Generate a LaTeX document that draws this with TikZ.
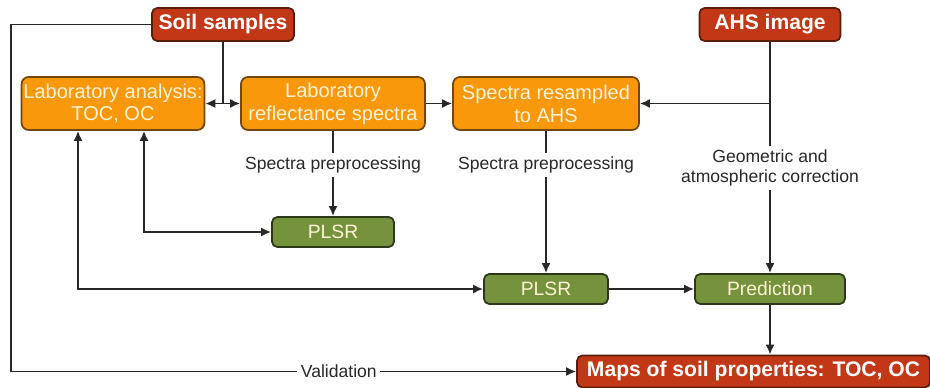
\documentclass[tikz,border=0pt]{standalone}
\usepackage{fontspec}
\setmainfont{Liberation Sans}
\usepackage{tikz}
\usetikzlibrary{arrows.meta,positioning}
\definecolor{soilred}{RGB}{194,56,22}
\definecolor{soilredline}{RGB}{90,28,12}
\definecolor{laborange}{RGB}{250,152,12}
\definecolor{laborangeline}{RGB}{115,70,12}
\definecolor{plsrgreen}{RGB}{117,146,60}
\definecolor{plsrgreenline}{RGB}{45,56,26}
\definecolor{boxtext}{RGB}{255,243,215}
\definecolor{linegray}{RGB}{40,40,40}
\tikzset{
  redbox/.style={ draw=soilredline, line width=1pt, fill=soilred, rounded corners=3pt,
    text=white, font=\fontsize{12}{14}\selectfont\bfseries, minimum height=0.66cm, inner sep=1pt }
}
\tikzset{
  orangebox/.style={ draw=laborangeline, line width=1pt, fill=laborange, rounded corners=4pt,
    text=boxtext, font=\fontsize{11.4}{13}\selectfont, align=center, minimum height=1.06cm, inner sep=1pt }
}
\tikzset{
  greenbox/.style={ draw=plsrgreenline, line width=1pt, fill=plsrgreen, rounded corners=3pt,
    text=boxtext, font=\fontsize{11}{13}\selectfont, minimum height=0.6cm, inner sep=1pt }
}
\tikzset{
  steplabel/.style={ fill=white, text=linegray, font=\fontsize{10}{11.9}\selectfont, align=center, inner sep=2pt }
}
\tikzset{
  conn/.style={ draw=linegray, line width=1pt, >={Latex[length=2mm,width=1.8mm]} }
}

\begin{document}
\begin{tikzpicture}[x=0.02cm, y=-0.02cm]
      \useasboundingbox (0, 0) rectangle (930, 388);
      \node[redbox, minimum width=2.84cm] (soil) at (223, 24.5) {Soil samples};
      \node[redbox, minimum width=2.82cm] (ahs) at (770, 24.5) {AHS image};

      \node[orangebox, minimum width=3.64cm] (lab) at (113, 103.5) {Laboratory analysis:\\TOC, OC};
      \node[orangebox, minimum width=3.68cm] (refl) at (333, 103.5) {Laboratory\\reflectance spectra};
      \node[orangebox, minimum width=3.72cm] (resamp) at (546, 103.5) {Spectra resampled\\to AHS};

      \node[greenbox, minimum width=2.44cm] (plsrlab) at (333, 232) {PLSR};
      \node[greenbox, minimum width=2.48cm] (plsrahs) at (546, 289) {PLSR};
      \node[greenbox, minimum width=3.0cm] (pred) at (770, 289) {Prediction};

      \node[redbox, minimum width=7.06cm, minimum height=0.64cm] (maps) at (753.5, 371.5) {Maps of soil properties: TOC, OC};

      \coordinate (soiljn) at (223, 103.5);
      \coordinate (ahsjn) at (770, 103.5);
      \coordinate (valcorner) at (11, 371.5);

      \draw[conn] (soil.south) -- (soiljn);
      \draw[conn, ->] (soiljn) -- (lab.east);
      \draw[conn, ->] (soiljn) -- (refl.west);
      \draw[conn, ->] (refl.east) -- (resamp.west);

      \draw[conn] (ahs.south) -- (ahsjn);
      \draw[conn, ->] (ahsjn) -- (resamp.east);
      \draw[conn, ->] (ahsjn) -- node[steplabel, pos=0.38] {Geometric and\\atmospheric correction} (pred.north);

      \draw[conn, ->] (refl.south) -- node[steplabel, pos=0.4] {Spectra preprocessing} (plsrlab.north);
      \draw[conn, ->] (resamp.south) -- node[steplabel, pos=0.24] {Spectra preprocessing} (plsrahs.north);

      \draw[conn, <->] ([xshift=0.62cm]lab.south) |- (plsrlab.west);
      \draw[conn, <->] ([xshift=-0.7cm]lab.south) |- (plsrahs.west);

      \draw[conn, ->] (plsrahs.east) -- (pred.west);
      \draw[conn, ->] (pred.south) -- (pred.south |- maps.north);

      \draw[conn, ->] (soil.west) -| (valcorner) -- node[steplabel, pos=0.58] {Validation} (maps.west);
    \end{tikzpicture}
\end{document}
